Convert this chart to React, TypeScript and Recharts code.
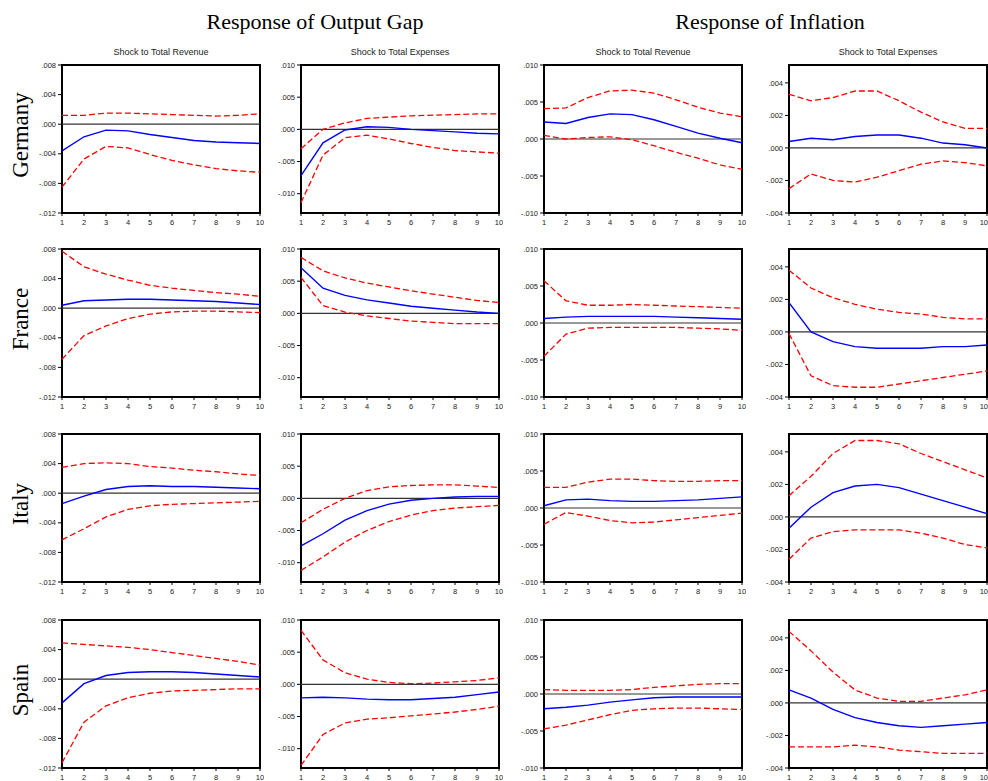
import React from 'react';
import {
  LineChart,
  Line,
  XAxis,
  YAxis,
  ReferenceLine,
  ReferenceArea,
} from 'recharts';

const HORIZON = [1, 2, 3, 4, 5, 6, 7, 8, 9, 10];

const COUNTRIES = ['Germany', 'France', 'Italy', 'Spain'];
const SHOCKS = ['Shock to Total Revenue', 'Shock to Total Expenses'];
const RESPONSES = ['Response of Output Gap', 'Response of Inflation'];

const GAP_REV_TICKS = [-0.012, -0.008, -0.004, 0, 0.004, 0.008];
const GAP_EXP_TICKS = [-0.01, -0.005, 0, 0.005, 0.01];
const INF_REV_TICKS = [-0.01, -0.005, 0, 0.005, 0.01];
const INF_EXP_TICKS = [-0.004, -0.002, 0, 0.002, 0.004];

// Germany
const deGapRev = [-0.0036, -0.0017, -0.0008, -0.0009, -0.0014, -0.0018, -0.0022, -0.0024, -0.0025, -0.0026];
const deGapRevHi = [0.0012, 0.0012, 0.0015, 0.0015, 0.0014, 0.0013, 0.0012, 0.0011, 0.0012, 0.0014];
const deGapRevLo = [-0.0085, -0.0047, -0.003, -0.0032, -0.0041, -0.0049, -0.0055, -0.006, -0.0063, -0.0065];
const deGapExp = [-0.0072, -0.0021, -0.0001, 0.0004, 0.0003, 0.0, -0.0002, -0.0004, -0.0006, -0.0007];
const deGapExpHi = [-0.003, 0.0, 0.001, 0.0017, 0.0019, 0.0021, 0.0022, 0.0023, 0.0024, 0.0024];
const deGapExpLo = [-0.0114, -0.004, -0.0013, -0.0009, -0.0015, -0.0022, -0.0028, -0.0033, -0.0035, -0.0037];
const deInfRev = [0.0023, 0.0021, 0.0029, 0.0034, 0.0033, 0.0026, 0.0017, 0.0008, 0.0001, -0.0005];
const deInfRevHi = [0.0041, 0.0042, 0.0056, 0.0065, 0.0066, 0.0062, 0.0053, 0.0043, 0.0035, 0.003];
const deInfRevLo = [0.0005, 0.0, 0.0002, 0.0003, -0.0001, -0.0009, -0.0018, -0.0026, -0.0035, -0.0041];
const deInfExp = [0.0004, 0.0006, 0.0005, 0.0007, 0.0008, 0.0008, 0.0006, 0.0003, 0.0002, 0.0];
const deInfExpHi = [0.0033, 0.0029, 0.0031, 0.0035, 0.0035, 0.0029, 0.0022, 0.0016, 0.0012, 0.0012];
const deInfExpLo = [-0.0025, -0.0016, -0.002, -0.0021, -0.0018, -0.0014, -0.001, -0.0008, -0.0009, -0.0011];

// France
const frGapRev = [0.0004, 0.001, 0.0011, 0.0012, 0.0012, 0.0011, 0.001, 0.0009, 0.0007, 0.0005];
const frGapRevHi = [0.0077, 0.0056, 0.0046, 0.0038, 0.0031, 0.0027, 0.0024, 0.0021, 0.0019, 0.0016];
const frGapRevLo = [-0.0069, -0.0037, -0.0024, -0.0014, -0.0008, -0.0005, -0.0004, -0.0004, -0.0005, -0.0006];
const frGapExp = [0.0071, 0.0039, 0.0028, 0.0021, 0.0016, 0.0011, 0.0008, 0.0005, 0.0002, 0.0];
const frGapExpHi = [0.0087, 0.0066, 0.0055, 0.0047, 0.0041, 0.0035, 0.003, 0.0025, 0.002, 0.0017];
const frGapExpLo = [0.0056, 0.0012, 0.0002, -0.0004, -0.0008, -0.0012, -0.0014, -0.0016, -0.0016, -0.0016];
const frInfRev = [0.0006, 0.0008, 0.0009, 0.0009, 0.0009, 0.0009, 0.0008, 0.0007, 0.0006, 0.0005];
const frInfRevHi = [0.0057, 0.003, 0.0024, 0.0024, 0.0025, 0.0024, 0.0023, 0.0022, 0.0021, 0.002];
const frInfRevLo = [-0.0045, -0.0015, -0.0007, -0.0006, -0.0006, -0.0006, -0.0006, -0.0007, -0.0008, -0.001];
const frInfExp = [0.0018, 0.0, -0.0006, -0.0009, -0.001, -0.001, -0.001, -0.0009, -0.0009, -0.0008];
const frInfExpHi = [0.0038, 0.0027, 0.0021, 0.0017, 0.0014, 0.0012, 0.0011, 0.0009, 0.0008, 0.0008];
const frInfExpLo = [-0.0001, -0.0027, -0.0033, -0.0034, -0.0034, -0.0032, -0.003, -0.0028, -0.0026, -0.0024];

// Italy
const itGapRev = [-0.0014, -0.0004, 0.0005, 0.0009, 0.001, 0.0009, 0.0009, 0.0008, 0.0007, 0.0006];
const itGapRevHi = [0.0035, 0.004, 0.0041, 0.004, 0.0036, 0.0034, 0.0031, 0.0029, 0.0026, 0.0024];
const itGapRevLo = [-0.0063, -0.0048, -0.0032, -0.0022, -0.0017, -0.0015, -0.0014, -0.0013, -0.0012, -0.0011];
const itGapExp = [-0.0074, -0.0055, -0.0034, -0.0019, -0.0009, -0.0003, 0.0, 0.0002, 0.0003, 0.0003];
const itGapExpHi = [-0.0038, -0.0017, 0.0, 0.0012, 0.0018, 0.002, 0.0021, 0.0021, 0.0019, 0.0017];
const itGapExpLo = [-0.0112, -0.0091, -0.0068, -0.005, -0.0036, -0.0026, -0.0019, -0.0015, -0.0013, -0.0011];
const itInfRev = [0.0003, 0.0011, 0.0012, 0.001, 0.0009, 0.0009, 0.001, 0.0011, 0.0013, 0.0015];
const itInfRevHi = [0.0028, 0.0028, 0.0035, 0.0039, 0.0039, 0.0037, 0.0036, 0.0036, 0.0037, 0.0037];
const itInfRevLo = [-0.0022, -0.0006, -0.0011, -0.0017, -0.002, -0.0019, -0.0016, -0.0013, -0.001, -0.0007];
const itInfExp = [-0.0007, 0.0006, 0.0015, 0.0019, 0.002, 0.0018, 0.0014, 0.001, 0.0006, 0.0002];
const itInfExpHi = [0.0013, 0.0025, 0.0039, 0.0047, 0.0047, 0.0045, 0.0039, 0.0034, 0.0029, 0.0024];
const itInfExpLo = [-0.0026, -0.0013, -0.0009, -0.0008, -0.0008, -0.0008, -0.001, -0.0013, -0.0017, -0.0019];

// Spain
const esGapRev = [-0.0032, -0.0006, 0.0005, 0.0009, 0.001, 0.001, 0.0009, 0.0007, 0.0005, 0.0003];
const esGapRevHi = [0.0049, 0.0047, 0.0045, 0.0043, 0.004, 0.0036, 0.0032, 0.0028, 0.0024, 0.0019];
const esGapRevLo = [-0.0113, -0.0058, -0.0036, -0.0025, -0.0019, -0.0016, -0.0015, -0.0014, -0.0013, -0.0013];
const esGapExp = [-0.0021, -0.002, -0.0021, -0.0023, -0.0024, -0.0024, -0.0022, -0.002, -0.0016, -0.0012];
const esGapExpHi = [0.0084, 0.0038, 0.0018, 0.0008, 0.0003, 0.0001, 0.0002, 0.0004, 0.0006, 0.001];
const esGapExpLo = [-0.0126, -0.0078, -0.006, -0.0054, -0.0052, -0.0049, -0.0046, -0.0043, -0.0039, -0.0034];
const esInfRev = [-0.002, -0.0018, -0.0015, -0.0011, -0.0008, -0.0005, -0.0004, -0.0004, -0.0004, -0.0004];
const esInfRevHi = [0.0006, 0.0005, 0.0005, 0.0005, 0.0006, 0.0009, 0.0011, 0.0013, 0.0014, 0.0014];
const esInfRevLo = [-0.0047, -0.0042, -0.0035, -0.0028, -0.0022, -0.002, -0.0019, -0.0019, -0.002, -0.0021];
const esInfExp = [0.0008, 0.0003, -0.0004, -0.0009, -0.0012, -0.0014, -0.0015, -0.0014, -0.0013, -0.0012];
const esInfExpHi = [0.0044, 0.0032, 0.0019, 0.0008, 0.0003, 0.0001, 0.0001, 0.0003, 0.0005, 0.0008];
const esInfExpLo = [-0.0027, -0.0027, -0.0027, -0.0026, -0.0027, -0.0029, -0.003, -0.0031, -0.0031, -0.0031];

// layout of the 4x4 grid (plot-area boxes)
const COL_LEFT = [62, 301, 544, 789];
const ROW_TOP = [65, 249, 434, 620];
const PLOT_W = 198;
const PLOT_H = 148;
const Y_AXIS_W = 40;
const X_AXIS_H = 16;
const M_TOP = 4;
const M_RIGHT = 4;

const COLUMNS = [
  { domain: [-0.012, 0.008], ticks: GAP_REV_TICKS },
  { domain: [-0.013, 0.01], ticks: GAP_EXP_TICKS },
  { domain: [-0.01, 0.01], ticks: INF_REV_TICKS },
  { domain: [-0.004, 0.0051], ticks: INF_EXP_TICKS },
];

const SERIES = [
  [
    [deGapRev, deGapRevHi, deGapRevLo],
    [deGapExp, deGapExpHi, deGapExpLo],
    [deInfRev, deInfRevHi, deInfRevLo],
    [deInfExp, deInfExpHi, deInfExpLo],
  ],
  [
    [frGapRev, frGapRevHi, frGapRevLo],
    [frGapExp, frGapExpHi, frGapExpLo],
    [frInfRev, frInfRevHi, frInfRevLo],
    [frInfExp, frInfExpHi, frInfExpLo],
  ],
  [
    [itGapRev, itGapRevHi, itGapRevLo],
    [itGapExp, itGapExpHi, itGapExpLo],
    [itInfRev, itInfRevHi, itInfRevLo],
    [itInfExp, itInfExpHi, itInfExpLo],
  ],
  [
    [esGapRev, esGapRevHi, esGapRevLo],
    [esGapExp, esGapExpHi, esGapExpLo],
    [esInfRev, esInfRevHi, esInfRevLo],
    [esInfExp, esInfExpHi, esInfExpLo],
  ],
];

const fmtTick = (v: number) => {
  const s = Math.abs(v).toFixed(3).slice(1);
  return (v < -1e-9 ? '-' : '') + s;
};

const FONT_SANS = 'Liberation Sans, Arial, sans-serif';
const tickFont = { fontFamily: FONT_SANS, fontSize: 7.5, fill: '#222' };

// x tick; the last label of the right-most column is pulled inside the page
const makeXTick = (lastCol: boolean) => (props: any) => {
  const { x, y, payload } = props;
  const pullIn = lastCol && payload.value === 10;
  return (
    <text
      x={pullIn ? x + 1 : x}
      y={y}
      dy={7}
      textAnchor={pullIn ? 'end' : 'middle'}
      fontFamily={FONT_SANS}
      fontSize={7.5}
      fill="#222"
    >
      {payload.value}
    </text>
  );
};

function Panel({ row, col }: { row: number; col: number }) {
  const [irf, hi, lo] = SERIES[row][col];
  const { domain, ticks } = COLUMNS[col];
  const data = HORIZON.map((h, i) => ({ h, irf: irf[i], hi: hi[i], lo: lo[i] }));

  return (
    <div
      style={{
        position: 'absolute',
        left: COL_LEFT[col] - Y_AXIS_W,
        top: ROW_TOP[row] - M_TOP,
      }}
    >
      <LineChart
        width={Y_AXIS_W + PLOT_W + M_RIGHT}
        height={M_TOP + PLOT_H + X_AXIS_H}
        data={data}
        margin={{ top: M_TOP, right: M_RIGHT, bottom: 0, left: 0 }}
      >
        <XAxis
          dataKey="h"
          type="number"
          domain={[1, 10]}
          ticks={HORIZON}
          height={X_AXIS_H}
          axisLine={false}
          tickLine={{ stroke: '#000' }}
          tickSize={3}
          tick={makeXTick(col === 3)}
          interval={0}
        />
        <YAxis
          type="number"
          domain={domain}
          ticks={ticks}
          width={Y_AXIS_W}
          axisLine={false}
          tickLine={{ stroke: '#000' }}
          tickSize={4}
          tick={tickFont}
          tickFormatter={fmtTick}
          interval={0}
          allowDataOverflow
        />
        <ReferenceLine y={0} stroke="#333" strokeWidth={1.2} />
        <Line
          dataKey="hi"
          stroke="#ff0000"
          strokeWidth={1.3}
          strokeDasharray="6 3"
          dot={false}
          isAnimationActive={false}
        />
        <Line
          dataKey="lo"
          stroke="#ff0000"
          strokeWidth={1.3}
          strokeDasharray="6 3"
          dot={false}
          isAnimationActive={false}
        />
        <Line
          dataKey="irf"
          stroke="#0000ff"
          strokeWidth={1.4}
          dot={false}
          isAnimationActive={false}
        />
        <ReferenceArea
          x1={1}
          x2={10}
          y1={domain[0]}
          y2={domain[1]}
          fill="none"
          stroke="#000"
          strokeWidth={2}
          ifOverflow="visible"
        />
      </LineChart>
    </div>
  );
}

export default function App() {
  return (
    <div
      style={{
        position: 'absolute',
        left: 0,
        top: 0,
        width: 988,
        height: 781,
        overflow: 'hidden',
        background: '#fff',
      }}
    >
      {RESPONSES.map((title, i) => (
        <div
          key={title}
          style={{
            position: 'absolute',
            left: i === 0 ? 165 : 620,
            top: 9,
            width: 300,
            textAlign: 'center',
            fontFamily: 'Liberation Serif, Times New Roman, serif',
            fontSize: 22,
            lineHeight: '26px',
          }}
        >
          {title}
        </div>
      ))}
      {COL_LEFT.map((left, c) => (
        <div
          key={`shock-${c}`}
          style={{
            position: 'absolute',
            left,
            top: 46,
            width: PLOT_W,
            textAlign: 'center',
            fontFamily: FONT_SANS,
            fontSize: 9,
            lineHeight: '12px',
            color: '#222',
          }}
        >
          {SHOCKS[c % 2]}
        </div>
      ))}
      {COUNTRIES.map((name, r) => (
        <div
          key={name}
          style={{
            position: 'absolute',
            left: 21,
            top: ROW_TOP[r] + PLOT_H / 2 - 4,
            transform: 'translate(-50%, -50%) rotate(-90deg)',
            whiteSpace: 'nowrap',
            fontFamily: 'Liberation Serif, Times New Roman, serif',
            fontSize: 23,
            lineHeight: '26px',
          }}
        >
          {name}
        </div>
      ))}
      {COUNTRIES.map((name, r) =>
        COL_LEFT.map((_, c) => <Panel key={`${name}-${c}`} row={r} col={c} />)
      )}
    </div>
  );
}
